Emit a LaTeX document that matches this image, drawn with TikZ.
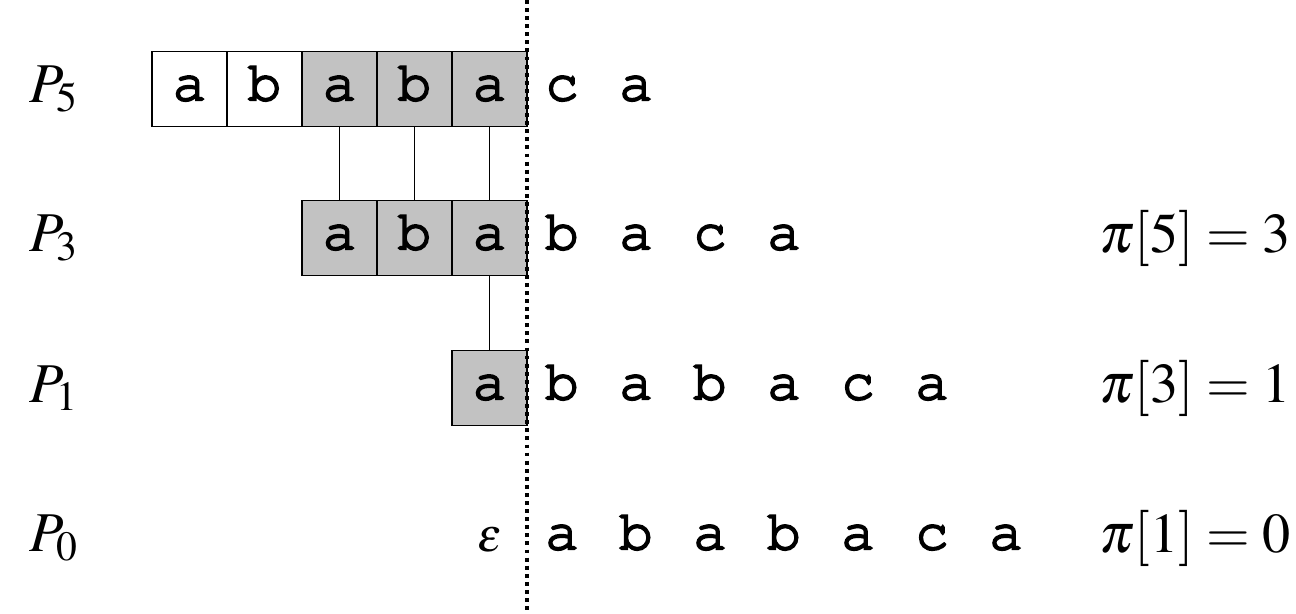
\documentclass[tikz,border=0pt]{standalone}
\usepackage[T1,TU]{fontenc}
\usepackage{amsmath}
\usepackage{mathptmx}
\usepackage{tikz}
\usetikzlibrary{positioning}

\newcommand{\courfont}{\fontencoding{T1}\fontfamily{pcr}\fontseries{m}\fontsize{32}{34}\selectfont}
\newcommand{\heavy}[1]{\special{pdf:code 2 Tr 1.1 w}#1\special{pdf:code 0 Tr}}

\tikzset{
  cell/.style={draw, line width=1pt, minimum width=1.5cm, minimum height=1.5cm, inner sep=0pt,
    text height=0.45cm, text depth=0pt, font=\courfont},
  shade/.style={cell, fill=black!24},
  chr/.style={inner sep=0pt, text height=0.45cm, text depth=0pt, font=\courfont},
  lbl/.style={inner sep=0pt, font=\fontsize{32}{36}\selectfont},
  link/.style={line width=0.9pt},
  sep/.style={line width=2.2pt, dash pattern=on 2.2pt off 2.4pt}
}

\begin{document}
\begin{tikzpicture}[x=0.02cm,y=-0.02cm]
  \useasboundingbox (0,0) rectangle (1296,613);

  % row labels
  \node[lbl] (l5) at (54,89) {$P_5$};
  \node[lbl] (l3) at (54,238) {$P_3$};
  \node[lbl] (l1) at (54,388) {$P_1$};
  \node[lbl] (l0) at (54,538) {$P_0$};

  % P5
  \node[cell]  (p5a) at (189.5,89) {\heavy{a}};
  \node[cell]  (p5b) at (264.5,89) {\heavy{b}};
  \node[shade] (p5c) at (339.5,89) {\heavy{a}};
  \node[shade] (p5d) at (414.5,89) {\heavy{b}};
  \node[shade] (p5e) at (489.5,89) {\heavy{a}};
  % P3
  \node[shade] (p3a) at (339.5,238) {\heavy{a}};
  \node[shade] (p3b) at (414.5,238) {\heavy{b}};
  \node[shade] (p3c) at (489.5,238) {\heavy{a}};
  % P1
  \node[shade] (p1a) at (489.5,388) {\heavy{a}};
  % P0
  \node[lbl, font=\fontsize{27}{30}\selectfont] (eps) at (490,540) {$\varepsilon$};

  % text after the shift
  \foreach \ch [count=\i] in {c,a}
    \node[chr] (t5\i) at ({562+74*(\i-1)},89) {\heavy{\ch}};
  \foreach \ch [count=\i] in {b,a,c,a}
    \node[chr] (t3\i) at ({562+74*(\i-1)},238) {\heavy{\ch}};
  \foreach \ch [count=\i] in {b,a,b,a,c,a}
    \node[chr] (t1\i) at ({562+74*(\i-1)},388) {\heavy{\ch}};
  \foreach \ch [count=\i] in {a,b,a,b,a,c,a}
    \node[chr] (t0\i) at ({562+74*(\i-1)},538) {\heavy{\ch}};

  % prefix values
  \node[lbl, anchor=east] (pi5) at (1291,238) {$\pi[5] = 3$};
  \node[lbl, anchor=east] (pi3) at (1291,388) {$\pi[3] = 1$};
  \node[lbl, anchor=east] (pi1) at (1291,538) {$\pi[1] = 0$};

  % matches
  \draw[link] (p5c.south) -- (p3a.north);
  \draw[link] (p5d.south) -- (p3b.north);
  \draw[link] (p5e.south) -- (p3c.north);
  \draw[link] (p3c.south) -- (p1a.north);

  % dotted separator
  \coordinate (top) at (527,0);
  \coordinate (bot) at (527,613);
  \draw[sep] (top) -- (bot);
\end{tikzpicture}
\end{document}
